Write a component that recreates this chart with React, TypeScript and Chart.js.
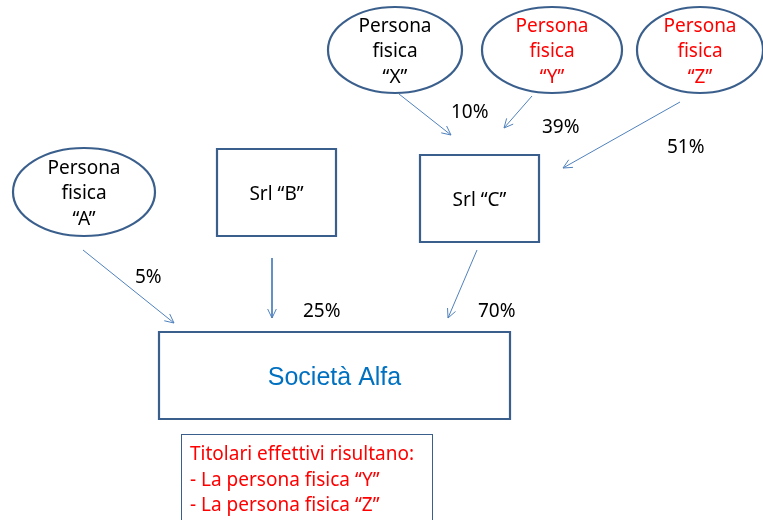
import React, { useEffect, useRef } from "react";
import { Chart, registerables } from "chart.js";
Chart.register(...registerables);

// ---- data ----
const nodeIds = ["A", "B", "C", "X", "Y", "Z", "ALFA"];
const nodeLines = [
  ["Persona", "fisica", "“A”"],
  ["Srl “B”"],
  ["Srl “C”"],
  ["Persona", "fisica", "“X”"],
  ["Persona", "fisica", "“Y”"],
  ["Persona", "fisica", "“Z”"],
  ["Società Alfa"],
];
const beneficialOwners = ["Y", "Z"];
const stakeFrom = ["A", "B", "C", "X", "Y", "Z"];
const stakeTo = ["ALFA", "ALFA", "ALFA", "C", "C", "C"];
const stakePct = [5, 25, 70, 10, 39, 51];
const summaryTitle = "Titolari effettivi risultano:";
const summaryLines = ["- La persona fisica “Y”", "- La persona fisica “Z”"];

// ---- layout (diagram coordinates, 763 x 520) ----
const W = 763;
const H = 520;
const shapeLayout: Record<string, any> = {
  A: { kind: "ellipse", cx: 84, cy: 192, rx: 71, ry: 44 },
  B: { kind: "rect", x1: 217, y1: 149, x2: 336, y2: 236 },
  C: { kind: "rect", x1: 420, y1: 155, x2: 539, y2: 242 },
  X: { kind: "ellipse", cx: 395, cy: 50, rx: 67, ry: 43 },
  Y: { kind: "ellipse", cx: 552, cy: 50, rx: 70, ry: 43 },
  Z: { kind: "ellipse", cx: 700, cy: 50, rx: 63, ry: 43 },
  ALFA: { kind: "rect", x1: 159, y1: 332, x2: 510, y2: 419 },
};
const arrowLayout = [
  { x1: 83, y1: 250, x2: 174, y2: 323, lx: 135, ly: 283 },
  { x1: 272, y1: 258, x2: 272, y2: 318, lx: 303, ly: 317 },
  { x1: 477, y1: 250, x2: 448, y2: 318, lx: 478, ly: 317 },
  { x1: 399, y1: 94, x2: 451, y2: 135, lx: 451, ly: 118 },
  { x1: 532, y1: 96, x2: 504, y2: 128, lx: 542, ly: 133 },
  { x1: 680, y1: 102, x2: 563, y2: 168, lx: 667, ly: 153 },
];
const summaryBox = { x1: 181, y1: 434, x2: 432, y2: 530, tx: 190, ty: 460, lh: 25.5 };

const OUTLINE = "#3B5F8C";
const ARROW = "#4F81BD";
const RED = "#FF0000";
const BODY_FONT = '19px "Noto Sans"';

const diagramPlugin = {
  id: "diagram",
  afterDatasetsDraw(chart: any) {
    const { ctx, scales } = chart;
    const px = (v: number) => scales.x.getPixelForValue(v);
    const py = (v: number) => scales.y.getPixelForValue(v);
    ctx.save();

    // arrowheads + percentage labels
    ctx.strokeStyle = ARROW;
    ctx.lineWidth = 1;
    stakeFrom.forEach((_, i) => {
      const a = arrowLayout[i];
      const x2 = px(a.x2), y2 = py(a.y2), x1 = px(a.x1), y1 = py(a.y1);
      const ang = Math.atan2(y2 - y1, x2 - x1);
      const len = 10, spread = 0.45;
      ctx.beginPath();
      ctx.moveTo(x2 - len * Math.cos(ang - spread), y2 - len * Math.sin(ang - spread));
      ctx.lineTo(x2, y2);
      ctx.lineTo(x2 - len * Math.cos(ang + spread), y2 - len * Math.sin(ang + spread));
      ctx.stroke();
      ctx.fillStyle = "#000000";
      ctx.font = BODY_FONT;
      ctx.textAlign = "left";
      ctx.textBaseline = "alphabetic";
      ctx.fillText(stakePct[i] + "%", px(a.lx), py(a.ly));
    });

    // nodes
    nodeIds.forEach((id, i) => {
      const s = shapeLayout[id];
      ctx.strokeStyle = OUTLINE;
      ctx.lineWidth = 2.2;
      ctx.fillStyle = "#ffffff";
      let cx: number, cy: number;
      ctx.beginPath();
      if (s.kind === "ellipse") {
        cx = px(s.cx); cy = py(s.cy);
        ctx.ellipse(cx, cy, Math.abs(px(s.cx + s.rx) - cx), Math.abs(py(s.cy + s.ry) - cy), 0, 0, Math.PI * 2);
      } else {
        const x1 = px(s.x1), y1 = py(s.y1), x2 = px(s.x2), y2 = py(s.y2);
        cx = (x1 + x2) / 2; cy = (y1 + y2) / 2;
        ctx.rect(x1, y1, x2 - x1, y2 - y1);
      }
      ctx.fill();
      ctx.stroke();

      const lines = nodeLines[i];
      ctx.textAlign = "center";
      ctx.textBaseline = "alphabetic";
      if (id === "ALFA") {
        ctx.font = '25px "Liberation Sans"';
        ctx.fillStyle = "#0070C0";
        ctx.fillText(lines[0], cx, cy + 9);
      } else {
        ctx.font = BODY_FONT;
        ctx.fillStyle = beneficialOwners.includes(id) ? RED : "#000000";
        const lh = 25.5;
        const start = cy + 7 - ((lines.length - 1) / 2) * lh;
        lines.forEach((t, k) => ctx.fillText(t, cx, start + k * lh));
      }
    });

    // summary box
    ctx.strokeStyle = OUTLINE;
    ctx.lineWidth = 1;
    const bx1 = px(summaryBox.x1), by1 = py(summaryBox.y1);
    ctx.strokeRect(bx1 + 0.5, by1 + 0.5, px(summaryBox.x2) - bx1, py(summaryBox.y2) - by1);
    ctx.fillStyle = RED;
    ctx.font = BODY_FONT;
    ctx.textAlign = "left";
    [summaryTitle, ...summaryLines].forEach((t, k) =>
      ctx.fillText(t, px(summaryBox.tx), py(summaryBox.ty + k * summaryBox.lh))
    );
    ctx.restore();
  },
};

export default function App() {
  const ref = useRef<HTMLCanvasElement>(null);
  useEffect(() => {
    document.body.style.margin = "0";
    const datasets = stakeFrom.map((_, i) => {
      const a = arrowLayout[i];
      return {
        label: `${stakeFrom[i]}→${stakeTo[i]} ${stakePct[i]}%`,
        data: [
          { x: a.x1, y: a.y1 },
          { x: a.x2, y: a.y2 },
        ],
        showLine: true,
        borderColor: ARROW,
        borderWidth: 1,
        pointRadius: 0,
        fill: false,
      };
    });
    const chart = new Chart(ref.current as HTMLCanvasElement, {
      type: "scatter",
      data: { datasets },
      options: {
        animation: false,
        responsive: false,
        devicePixelRatio: 1,
        layout: { padding: 0 },
        plugins: { legend: { display: false }, tooltip: { enabled: false } },
        scales: {
          x: { type: "linear", min: 0, max: W, display: false },
          y: { type: "linear", min: 0, max: H, reverse: true, display: false },
        },
      },
      plugins: [diagramPlugin],
    });
    return () => chart.destroy();
  }, []);
  return (
    <div style={{ width: W, height: H, background: "#fff" }}>
      <canvas ref={ref} width={W} height={H} style={{ display: "block" }} />
    </div>
  );
}
